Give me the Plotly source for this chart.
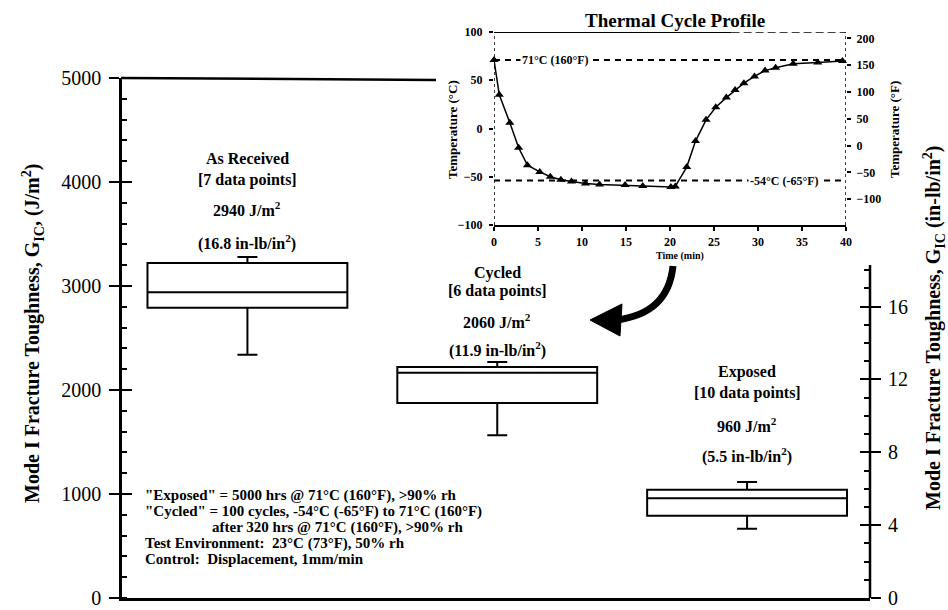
import plotly.graph_objects as go

W, H = 948, 610
SERIF = "Liberation Serif"
J_PER_INLB = 175.127  # 1 in-lb/in^2 expressed in J/m^2

# ---- Mode I fracture toughness box summaries (J/m^2) ----
groups = ["As Received", "Cycled", "Exposed"]
n_points = [7, 6, 10]
mean_j = [2940, 2060, 960]
mean_inlb = [16.8, 11.9, 5.5]
q1 = [2790, 1875, 790]
median = [2940, 2165, 960]
q3 = [3220, 2220, 1040]
lower_fence = [2340, 1565, 665]
upper_fence = [3280, 2270, 1115]
positions = [1, 2, 3]

# ---- thermal cycle profile (time in min, temperature in deg C) ----
cycle_t = [0, 0.6, 1.8, 2.8, 3.8, 5.2, 6.4, 7.6, 8.8, 10.4, 12.0, 14.9, 16.9,
           20.1, 20.6, 21.9, 22.9, 24.1, 25.2, 26.4, 27.4, 28.4, 29.6, 30.8,
           32.0, 34.0, 36.8, 39.6]
cycle_c = [71, 35, 6, -20, -38, -45, -50, -53, -55, -57, -58, -58.5, -59.5,
           -60.5, -60, -40, -13, 9, 22, 32, 40, 47, 54, 60, 63, 67, 68.5, 70]
ref_temps = [71, -54]
ref_labels = ["71°C (160°F)", "-54°C (-65°F)"]
ref_label_t = [7.0, 33.0]
time_ticks = [0, 5, 10, 15, 20, 25, 30, 35, 40]
temp_c_ticks = [-100, -50, 0, 50, 100]
temp_f_ticks = [-100, -50, 0, 50, 100, 150, 200]

footnotes = [
    "\"Exposed\" = 5000 hrs @ 71°C (160°F), >90% rh",
    "\"Cycled\" = 100 cycles, -54°C (-65°F) to 71°C (160°F)",
    "after 320 hrs @ 71°C (160°F), >90% rh",
    "Test Environment:  23°C (73°F), 50% rh",
    "Control:  Displacement, 1mm/min",
]


def px(x):
    return x / W


def py(y):
    return 1 - y / H


# main plotting frame in pixels
X0, X1 = 122, 870
YT, YB = 78, 598
RIGHT_TOP = 265
# inset frame in pixels
IX0, IX1 = 494, 846
IYT, IYB = 32, 225

fig = go.Figure()

for i in range(3):
    fig.add_trace(go.Box(
        x=[positions[i]], q1=[q1[i]], median=[median[i]], q3=[q3[i]],
        lowerfence=[lower_fence[i]], upperfence=[upper_fence[i]],
        width=0.8, whiskerwidth=0.1, fillcolor="white",
        line=dict(color="black", width=2), boxpoints=False,
        xaxis="x", yaxis="y", showlegend=False, hoverinfo="skip"))

# invisible anchors for the overlay axes
for ya in ["y3", "y5", "y6"]:
    fig.add_trace(go.Scatter(x=[1], y=[0], xaxis="x", yaxis=ya, mode="markers",
                             marker=dict(opacity=0), showlegend=False,
                             hoverinfo="skip"))
fig.add_trace(go.Scatter(x=[0], y=[0], xaxis="x2", yaxis="y4", mode="markers",
                         marker=dict(opacity=0), showlegend=False,
                         hoverinfo="skip"))

# reference temperatures
for temp in ref_temps:
    fig.add_trace(go.Scatter(x=[0, 40], y=[temp, temp], xaxis="x2", yaxis="y2",
                             mode="lines",
                             line=dict(color="black", width=2, dash="6px,5px"),
                             showlegend=False, hoverinfo="skip"))

fig.add_trace(go.Scatter(
    x=cycle_t, y=cycle_c, xaxis="x2", yaxis="y2", mode="lines+markers",
    line=dict(color="black", width=1.5),
    marker=dict(symbol="triangle-up", size=8, color="black"),
    showlegend=False, hoverinfo="skip", cliponaxis=False))

main_y_range = [0, 5000]
inlb_full = 5000 / J_PER_INLB
axis_font = dict(family=SERIF, size=20, color="black")
inset_tick_font = dict(family=SERIF, size=12, color="black", weight="bold")

fig.update_layout(
    width=W, height=H, autosize=False,
    margin=dict(l=0, r=0, t=0, b=0, autoexpand=False),
    paper_bgcolor="white", plot_bgcolor="rgba(0,0,0,0)",
    showlegend=False,
    xaxis=dict(domain=[px(X0), px(X1)], range=[0.498, 3.492], anchor="y",
               showline=True, linewidth=2.5, linecolor="black",
               showticklabels=False, ticks="", showgrid=False, zeroline=False,
               automargin=False),
    yaxis=dict(domain=[py(YB), py(YT)], range=main_y_range, anchor="x",
               showline=True, linewidth=2.5, linecolor="black",
               tickmode="linear", tick0=0, dtick=1000,
               ticks="outside", ticklen=10, tickwidth=2, tickcolor="black",
               minor=dict(dtick=200, ticks="inside", ticklen=5, tickwidth=2,
                          tickcolor="black"),
               tickfont=axis_font, ticklabelstandoff=4, automargin=False,
               showgrid=False, zeroline=False),
    yaxis5=dict(overlaying="y", anchor="x", side="left", range=main_y_range,
                tickmode="linear", tick0=0, dtick=1000,
                ticks="inside", ticklen=10, tickwidth=2, tickcolor="black",
                showticklabels=False, showgrid=False, zeroline=False,
                showline=False, automargin=False),
    yaxis3=dict(overlaying="y", anchor="x", side="right",
                range=[0, inlb_full], tickvals=[0, 4, 8, 12, 16],
                ticks="outside", ticklen=10, tickwidth=2, tickcolor="black",
                minor=dict(tickvals=list(range(1, 19)), ticks="inside",
                           ticklen=6, tickwidth=2, tickcolor="black"),
                tickfont=axis_font, ticklabelstandoff=3, automargin=False,
                showgrid=False, zeroline=False, showline=False),
    yaxis6=dict(overlaying="y", anchor="x", side="right",
                range=[0, inlb_full], tickvals=[4, 8, 12, 16],
                ticks="inside", ticklen=10, tickwidth=2, tickcolor="black",
                showticklabels=False, showgrid=False, zeroline=False,
                showline=False, automargin=False),
    xaxis2=dict(domain=[px(IX0), px(IX1)], range=[0, 40], anchor="y2",
                tickvals=time_ticks, ticks="outside", ticklen=4, tickwidth=1.5,
                tickcolor="black", showline=True, linewidth=2,
                linecolor="black", tickfont=inset_tick_font,
                ticklabelstandoff=1, automargin=False,
                showgrid=False, zeroline=False),
    yaxis2=dict(domain=[py(IYB), py(IYT)], range=[-100, 100], anchor="x2",
                tickvals=temp_c_ticks, ticks="outside", ticklen=4,
                tickwidth=1.5, tickcolor="black", tickfont=inset_tick_font,
                ticklabelstandoff=4, automargin=False,
                showgrid=False, zeroline=False, showline=False),
    yaxis4=dict(overlaying="y2", anchor="x2", side="right",
                range=[-100 * 9 / 5 + 32, 100 * 9 / 5 + 32],
                tickvals=temp_f_ticks, ticks="outside", ticklen=4,
                tickwidth=1.5, tickcolor="black", tickfont=inset_tick_font,
                ticklabelstandoff=3, automargin=False,
                showgrid=False, zeroline=False, showline=False),
)

shapes = []
# top edge of the main frame (left part) and the right axis spine
shapes.append(dict(type="line", xref="paper", yref="paper",
                   x0=px(X0 - 1), y0=py(YT), x1=px(436), y1=py(80),
                   line=dict(color="black", width=2.5)))
shapes.append(dict(type="line", xref="paper", yref="paper",
                   x0=px(X1), y0=py(YB), x1=px(X1), y1=py(RIGHT_TOP),
                   line=dict(color="black", width=2.5)))
# inset frame
for t in [0, 40]:
    shapes.append(dict(type="line", xref="x2", yref="y2", x0=t, x1=t,
                       y0=-100, y1=100,
                       line=dict(color="black", width=1.5, dash="dot")))
shapes.append(dict(type="line", xref="x2", yref="y2", x0=-0.5, x1=27,
                   y0=100, y1=100, line=dict(color="black", width=1.8)))
shapes.append(dict(type="line", xref="x2", yref="y2", x0=27, x1=40,
                   y0=100, y1=100,
                   line=dict(color="black", width=1.5, dash="8px,4px")))


# curved arrow from the inset down toward the cycled group
def P(x, y):
    return f"{px(x):.5f},{py(y):.5f}"


shapes.append(dict(type="path", xref="paper", yref="paper",
                   path=f"M {P(673, 266)} Q {P(668, 314)} {P(616, 320)}",
                   line=dict(color="black", width=7)))
shapes.append(dict(type="path", xref="paper", yref="paper",
                   path=f"M {P(590, 320)} L {P(622, 304)} L {P(620, 336)} Z",
                   fillcolor="black", line=dict(color="black", width=1)))
fig.update_layout(shapes=shapes)

ann = []
label_font = dict(family=SERIF, size=16, color="black", weight="bold")
label_rows = [[158, 180, 209, 243], [273, 291, 321, 349], [372, 393, 425, 455]]
for i in range(3):
    lines = [groups[i],
             f"[{n_points[i]} data points]",
             f"{mean_j[i]} J/m<sup>2</sup>",
             f"({mean_inlb[i]} in-lb/in<sup>2</sup>)"]
    for text, yy in zip(lines, label_rows[i]):
        ann.append(dict(xref="x", yref="paper", x=positions[i], y=py(yy),
                        text=text, showarrow=False, xanchor="center",
                        yanchor="middle", font=label_font))

foot_x = [143, 143, 210, 143, 143]
foot_y = [495, 511, 527, 543, 559]
for text, xx, yy in zip(footnotes, foot_x, foot_y):
    ann.append(dict(xref="paper", yref="paper", x=px(xx), y=py(yy), text=text,
                    showarrow=False, xanchor="left", yanchor="middle",
                    font=dict(family=SERIF, size=15, color="black",
                              weight="bold")))

# axis titles
title_font = dict(family=SERIF, size=20, color="black", weight="bold")
ann.append(dict(xref="paper", yref="paper", x=px(33), y=py(334),
                text="Mode I Fracture Toughness, G<sub>IC</sub>, (J/m<sup>2</sup>)",
                textangle=-90, showarrow=False, xanchor="center",
                yanchor="middle", font=title_font))
ann.append(dict(xref="paper", yref="paper", x=px(934), y=py(328),
                text="Mode I Fracture Toughness, G<sub>IC</sub> (in-lb/in<sup>2</sup>)",
                textangle=-90, showarrow=False, xanchor="center",
                yanchor="middle", font=title_font))

# inset title and axis titles
ann.append(dict(xref="paper", yref="paper", x=px(675), y=py(20),
                text="Thermal Cycle Profile", showarrow=False,
                xanchor="center", yanchor="middle",
                font=dict(family=SERIF, size=19, color="black",
                          weight="bold")))
ann.append(dict(xref="paper", yref="paper", x=px(680), y=py(256),
                text="Time (min)", showarrow=False, xanchor="center",
                yanchor="middle",
                font=dict(family=SERIF, size=10, color="black",
                          weight="bold")))
small_title = dict(family=SERIF, size=13, color="black", weight="bold")
ann.append(dict(xref="paper", yref="paper", x=px(452), y=py(130),
                text="Temperature (°C)", textangle=-90, showarrow=False,
                xanchor="center", yanchor="middle", font=small_title))
ann.append(dict(xref="paper", yref="paper", x=px(894), y=py(130),
                text="Temperature (°F)", textangle=-90, showarrow=False,
                xanchor="center", yanchor="middle", font=small_title))
for text, temp, t in zip(ref_labels, ref_temps, ref_label_t):
    ann.append(dict(xref="x2", yref="y2", x=t, y=temp, text=text,
                    showarrow=False, xanchor="center", yanchor="middle",
                    bgcolor="white", borderpad=1,
                    font=dict(family=SERIF, size=12, color="black",
                              weight="bold")))

fig.update_layout(annotations=ann)

fig.write_html("out.html")
